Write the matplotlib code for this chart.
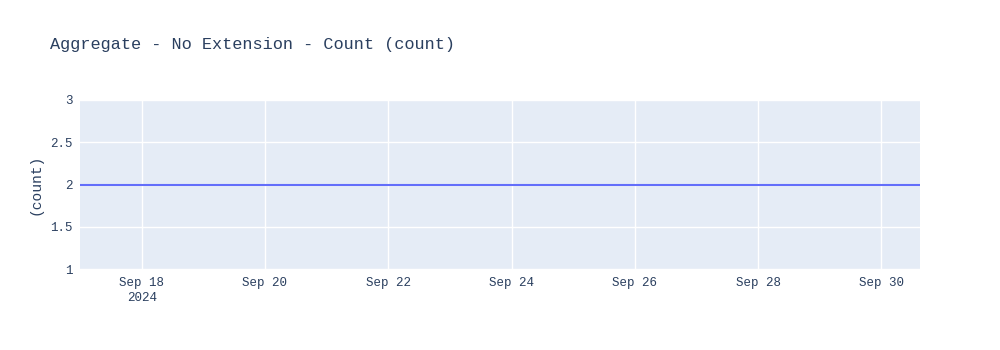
import matplotlib
matplotlib.use("Agg")
import matplotlib.pyplot as plt
import matplotlib.dates as mdates
from datetime import datetime

# data
times = [
    "2024-09-17 00:00", "2024-09-18 00:00", "2024-09-19 00:00", "2024-09-20 00:00",
    "2024-09-21 00:00", "2024-09-22 00:00", "2024-09-23 00:00", "2024-09-24 00:00",
    "2024-09-25 00:00", "2024-09-26 00:00", "2024-09-27 00:00", "2024-09-28 00:00",
    "2024-09-29 00:00", "2024-09-30 00:00", "2024-09-30 15:00",
]
counts = [2, 2, 2, 2, 2, 2, 2, 2, 2, 2, 2, 2, 2, 2, 2]
y_ticks = [1, 1.5, 2, 2.5, 3]
y_tick_labels = ["1", "1.5", "2", "2.5", "3"]

title = "Aggregate - No Extension - Count (count)"
y_label = "(count)"

txt = "#2a3f5f"
plt.rcParams["font.family"] = ["Liberation Mono", "DejaVu Sans Mono"]

x = [datetime.strptime(t, "%Y-%m-%d %H:%M") for t in times]

fig = plt.figure(figsize=(10, 3.5), dpi=100)
ax = fig.add_axes([0.08, 1 - 269 / 350, 0.84, 169 / 350])
ax.set_facecolor("#e5ecf6")
for s in ax.spines.values():
    s.set_visible(False)

ax.plot(x, counts, color="#636efa", lw=1.5, solid_capstyle="butt", zorder=3)

ax.set_xlim(x[0], x[-1])
ax.set_ylim(1, 3)
ax.set_yticks(y_ticks)
ax.set_yticklabels(y_tick_labels)

tick_days = [datetime(2024, 9, d) for d in range(18, 31, 2)]
ax.set_xticks(tick_days)
labels = [d.strftime("%b %d") for d in tick_days]
labels[0] = labels[0] + "\n2024"
ax.set_xticklabels(labels, linespacing=1.3)

ax.grid(True, color="white", lw=1, zorder=1)
ax.set_axisbelow(True)
ax.tick_params(length=0, labelsize=9, colors=txt, pad=5)
ax.tick_params(axis="x", pad=6)

ax.set_ylabel(y_label, fontsize=10.5, color=txt, labelpad=6)
fig.text(0.05, 1 - 45 / 350, title, fontsize=12.2, color=txt, va="center", ha="left")

fig.savefig("out.png", dpi=100, facecolor="white")
